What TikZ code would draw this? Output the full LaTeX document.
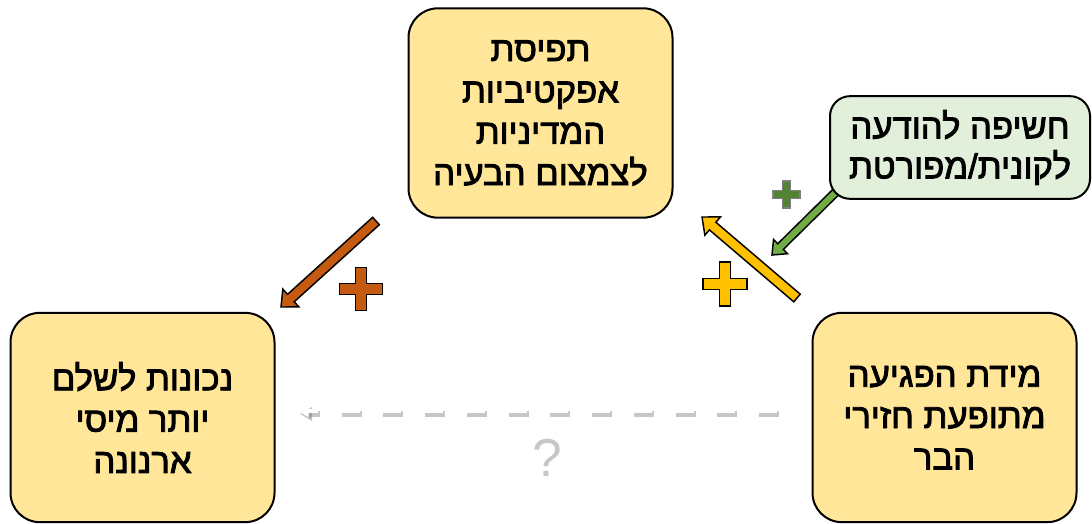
\documentclass[tikz,border=0pt]{standalone}
\usepackage{fontspec}
\newfontfamily\heb[Script=Hebrew, FakeBold=2.5]{Liberation Sans}
\newfontfamily\qfont{Liberation Sans}
\TeXXeTstate=1
\usetikzlibrary{calc,arrows.meta}
\definecolor{boxyellow}{HTML}{FFE699}
\definecolor{boxgreen}{HTML}{E2EFDA}
\definecolor{arrbrown}{HTML}{C55A11}
\definecolor{arryellow}{HTML}{FFC000}
\definecolor{arrgreen}{HTML}{70AD47}
\definecolor{plusgreen}{HTML}{548235}
\tikzset{
  mainbox/.style={draw=black, line width=1.5pt, fill=boxyellow, rounded corners=22pt,
    minimum width=198pt, minimum height=157pt, align=center, inner sep=0pt,
    font=\heb\fontsize{26}{31}\selectfont},
  greenbox/.style={draw=black, line width=1.5pt, fill=boxgreen, rounded corners=15pt,
    minimum width=195pt, minimum height=77pt, align=center, inner sep=0pt,
    font=\heb\fontsize{26}{30}\selectfont},
  arrowline/.style={draw=black, line width=1.1pt, line join=miter},
  plusline/.style={line width=1pt, line join=miter},
  whitedash/.style={white, line width=3pt, dash pattern=on 15pt off 16.3pt, -{Triangle[width=9pt,length=8pt]}},
  shadowdash/.style={black, opacity=0.22, line width=4.5pt, dash pattern=on 15pt off 16.3pt, -{Triangle[width=10pt,length=9pt]}},
}
% #1 tail, #2 tip, #3 colour, #4 half shaft, #5 half head, #6 head length
\newcommand{\blockarr}[6]{%
  \coordinate (#1#2h) at ($(#2)!#6!(#1)$);
  \draw[arrowline, fill=#3]
    ($(#1)!#4!90:(#2)$) -- ($(#1#2h)!#4!90:(#2)$) -- ($(#1#2h)!#5!90:(#2)$) -- (#2)
    -- ($(#1#2h)!#5!-90:(#2)$) -- ($(#1#2h)!#4!-90:(#2)$) -- ($(#1)!#4!-90:(#2)$) -- cycle;}
% #1 centre, #2 half size, #3 half arm, #4 fill, #5 draw
\newcommand{\plussign}[5]{%
  \draw[plusline, fill=#4, draw=#5, shift={(#1)}]
    (-#3,-#2) -- (#3,-#2) -- (#3,-#3) -- (#2,-#3) -- (#2,#3) -- (#3,#3) -- (#3,#2)
    -- (-#3,#2) -- (-#3,#3) -- (-#2,#3) -- (-#2,-#3) -- (-#3,-#3) -- cycle;}
\begin{document}
\begin{tikzpicture}[x=0.75pt, y=-0.75pt]
\useasboundingbox (0,0) rectangle (1092,524);
% arrow end points
\coordinate (b1) at (376,221);
\coordinate (b2) at (281,307);
\coordinate (y1) at (797,298);
\coordinate (y2) at (702,217);
\coordinate (g1) at (842,186);
\coordinate (g2) at (772,255);
\coordinate (d1) at (777,411);
\coordinate (d2) at (298,411);
% dashed arrow with shadow
\draw[shadowdash] ($(d1)+(2,3)$) -- ($(d2)+(2,3)$);
\draw[whitedash] (d1) -- (d2);
% question mark (white with shadow, shown as light grey)
\node[font=\qfont\fontsize{40}{44}\selectfont, inner sep=0pt, text=black!22] (q) at (547,458) {?};
% block arrows
\blockarr{b1}{b2}{arrbrown}{3.75pt}{9pt}{10pt}
\blockarr{y1}{y2}{arryellow}{3.75pt}{9pt}{10.5pt}
\blockarr{g1}{g2}{arrgreen}{3pt}{7.5pt}{9pt}
% plus signs
\plussign{361,289}{21.5}{5.3}{arrbrown}{black}
\plussign{725,284}{22}{5.5}{arryellow}{black}
\plussign{786.5,194.5}{13.5}{4.3}{plusgreen}{gray}
% boxes
\node[mainbox] (top) at (540.5,113) {\beginR תפיסת\endR\\ \beginR אפקטיביות\endR\\ \beginR המדיניות\endR\\ \beginR לצמצום הבעיה\endR};
\node[mainbox] (left) at (142.5,417.5) {\beginR נכונות לשלם\endR\\ \beginR יותר מיסי\endR\\ \beginR ארנונה\endR};
\node[mainbox] (right) at (944.5,417.5) {\beginR מידת הפגיעה\endR\\ \beginR מתופעת חזירי\endR\\ \beginR הבר\endR};
\node[greenbox] (green) at (960,147.5) {\beginR חשיפה להודעה\endR\\ \beginR לקונית/מפורטת\endR};
\end{tikzpicture}
\end{document}
